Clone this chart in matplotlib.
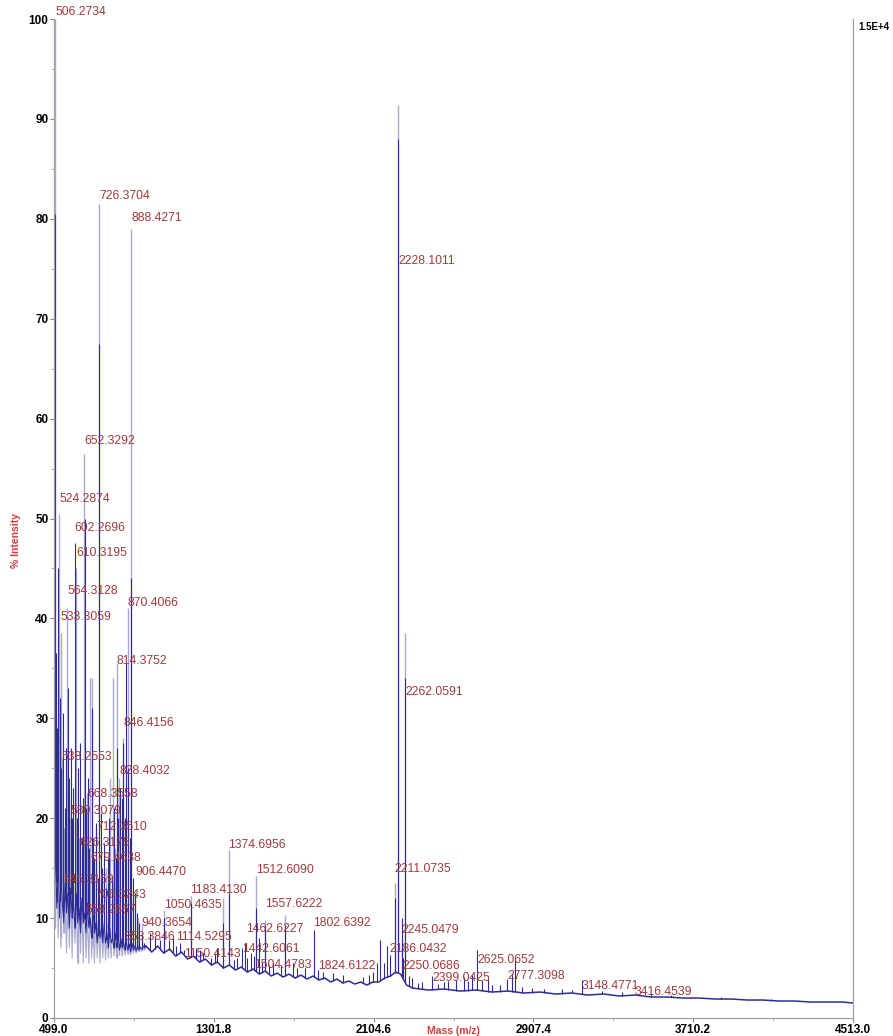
import numpy as np
import matplotlib
matplotlib.use('Agg')
import matplotlib.pyplot as plt

plt.rcParams['font.family'] = ['Liberation Sans', 'DejaVu Sans']

# noisy low-mass region, both overlaid traces (m/z, % intensity)
left_mz = [499, 506, 513, 520, 527, 534, 541, 548, 555, 562,
           569, 576, 583, 590, 597, 604, 611, 618, 625, 632,
           639, 646, 653, 660, 667, 674, 681, 688, 695, 702,
           709, 716, 723, 730, 737, 744, 751, 758, 765, 772,
           779, 786, 793, 800, 807, 814, 821, 828, 835, 842,
           849, 856, 863, 870, 877, 884, 891, 898, 905, 912,
           919, 926, 933, 940, 947, 954]
left_dark = [12.5, 17, 11, 15.5, 10, 14, 11.5, 9.5, 13.5, 10.5,
             12.5, 9, 13, 10, 11.5, 9, 12.5, 9.5, 11, 8.5,
             12, 9.5, 10.5, 8.5, 11.5, 9, 10, 8, 11, 8.5,
             9.5, 7.5, 10, 8, 9, 7.5, 9.5, 7.5, 8.5, 7,
             9, 7.5, 8, 7, 8.5, 7, 8, 6.8, 8, 7,
             7.5, 6.8, 7.6, 6.8, 7.4, 6.6, 7.5, 6.8, 7.2, 6.7,
             7.3, 6.8, 7.1, 6.9, 7.2, 7.0]
left_light = [16, 9, 18, 8, 14, 7, 17, 8.5, 12, 6.5,
              15, 7, 13.5, 6, 14, 7.5, 12, 5.5, 13, 6.5,
              11.5, 5.5, 12.5, 6, 10.5, 5.5, 12, 6, 10, 5.5,
              11, 6, 9.5, 5.5, 10, 6, 9, 5.8, 9.5, 6,
              8.5, 6, 9, 6.2, 8, 6, 8.5, 6.3, 7.8, 6.2,
              7.5, 6.3, 7.4, 6.4, 7.2, 6.3, 7.1, 6.5, 7.0, 6.5,
              7.0, 6.6, 6.9, 6.7, 7.0, 6.8]

# baseline for the rest of the range
far_mz = [961, 990, 1020, 1050, 1080, 1110, 1140, 1170, 1200, 1230,
          1260, 1290, 1320, 1350, 1380, 1410, 1440, 1470, 1500, 1530,
          1560, 1590, 1620, 1650, 1680, 1710, 1740, 1770, 1800, 1830,
          1860, 1890, 1920, 1950, 1980, 2010, 2040, 2070, 2100, 2130,
          2160, 2190, 2215, 2240, 2270, 2300, 2380, 2460, 2540, 2620,
          2700, 2780, 2860, 2940, 3020, 3100, 3180, 3260, 3340, 3420,
          3500, 3580, 3660, 3740, 3820, 3900, 3980, 4060, 4140, 4220,
          4300, 4380, 4460, 4513]
far_int = [7.2, 6.6, 7.2, 6.5, 6.9, 6.2, 6.6, 5.9, 6.2, 5.6,
           5.9, 5.3, 5.6, 5.0, 5.3, 4.8, 5.1, 4.6, 4.9, 4.4,
           4.7, 4.2, 4.5, 4.1, 4.4, 4.0, 4.3, 3.9, 4.2, 3.8,
           4.0, 3.6, 3.9, 3.5, 3.7, 3.4, 3.6, 3.3, 3.6, 3.6,
           4.0, 4.2, 4.6, 4.4, 3.3, 3.0, 2.8, 2.9, 2.7, 2.8,
           2.6, 2.7, 2.5, 2.6, 2.4, 2.5, 2.3, 2.4, 2.2, 2.3,
           2.1, 2.1, 2.0, 2.0, 1.9, 1.9, 1.8, 1.8, 1.7, 1.7,
           1.6, 1.6, 1.6, 1.5]

dark_peak_mz = [506, 510, 514, 519, 530, 536, 544, 552, 560, 568,
                575, 582, 590, 596, 604, 616, 622, 630, 638, 645,
                655, 662, 670, 676, 688, 695, 702, 712, 718, 726,
                735, 742, 752, 760, 768, 776, 790, 800, 810, 815,
                822, 830, 840, 848, 856, 862, 872, 880, 888, 895,
                906, 915, 925, 940, 950, 980, 1005, 1030, 1075, 1095,
                1050, 1114, 1130, 1150, 1187, 1210, 1230, 1250, 1290, 1310,
                1320, 1348, 1377, 1405, 1420, 1442, 1460, 1470, 1490, 1505,
                1514, 1530, 1545, 1558, 1580, 1600, 1640, 1660, 1700, 1720,
                1760, 1806, 1826, 1850, 1900, 1950, 2050, 2080, 2101, 2120,
                2137, 2155, 2172, 2186, 2212, 2228, 2245, 2250, 2262, 2280,
                2300, 2330, 2350, 2399, 2430, 2460, 2480, 2520, 2559, 2580,
                2600, 2625, 2650, 2680, 2700, 2740, 2777, 2800, 2815, 2850,
                2900, 2960, 3050, 3100, 3150, 3250, 3350, 3416, 3500, 3600,
                3700, 3850, 4100]
dark_peak_int = [80.5, 36.5, 29, 45, 32, 25, 30.5, 21, 27, 33,
                 24, 27, 20, 23, 47.5, 20, 25, 27.5, 18, 22,
                 50, 21, 24, 17, 31, 18, 16, 19.5, 14, 67.5,
                 20.5, 15, 17.5, 13, 16, 20, 14, 21, 16, 27,
                 20, 23, 22, 27.5, 20, 35.5, 25, 18, 44, 14,
                 12.5, 10.5, 9.5, 8.5, 7.5, 8.5, 8.2, 7.8, 7.8, 8,
                 10, 7.2, 7.5, 6.8, 11.5, 7, 6.8, 6.5, 6, 6.4,
                 7, 9.5, 12.5, 5.8, 6, 7, 7.5, 6, 6.5, 6.2,
                 11, 8, 5.6, 9.3, 5.3, 5.5, 5.3, 9.3, 5.5, 5,
                 5, 8.8, 4.8, 4.6, 4.5, 4.3, 4.1, 4.3, 4.6, 5.5,
                 7.8, 5.5, 7.2, 6.3, 12, 88, 10, 6, 34, 4.2,
                 4, 3.5, 3.6, 4.2, 3.4, 3.6, 3.7, 3.8, 4.1, 3.7,
                 4.3, 6.8, 3.8, 3.9, 3.3, 3.3, 3.9, 4.4, 5.8, 3.1,
                 3.0, 2.9, 2.9, 2.8, 3.8, 2.7, 2.6, 2.3, 2.4, 2.3,
                 2.0, 2.1, 1.9]

light_peak_mz = [506, 510, 524, 533, 540, 548, 564, 572, 580, 588,
                 610, 618, 626, 640, 652, 665, 680, 690, 700, 712,
                 726, 740, 760, 780, 796, 805, 814, 828, 846, 870,
                 888, 906, 920, 940, 1050, 1187, 1348, 1377, 1514, 1558,
                 1660, 2212, 2228, 2245, 2262]
light_peak_int = [100, 24, 50.5, 38.5, 26, 19, 41, 22, 20, 19,
                  45, 18, 18, 16, 56.5, 22.5, 34, 34, 15, 19,
                  81.5, 14, 15, 24, 34, 17, 35.5, 24, 28, 41,
                  79, 12.5, 10, 9.5, 10.8, 12.2, 12, 16.8, 14.2, 9.8,
                  10.3, 13.5, 91.4, 8, 38.5]

# peak annotations: text and the height of the label
label_text = ['506.2734', '726.3704', '888.4271', '2228.1011', '652.3292',
              '524.2874', '602.2696', '610.3195', '564.3128', '533.3059',
              '870.4066', '814.3752', '2262.0591', '846.4156', '538.2553',
              '828.4032', '668.3558', '580.3079', '712.3510', '626.3175',
              '679.4638', '906.4470', '2211.0735', '1374.6956', '1512.6090',
              '545.3159', '1183.4130', '706.3243', '1050.4635', '1557.6222',
              '658.2867', '940.3654', '1462.6227', '1802.6392', '2245.0479',
              '853.3846', '1114.5295', '1442.6061', '2186.0432', '1150.4143',
              '2625.0652', '1504.4783', '1824.6122', '2250.0686', '2777.3098',
              '2399.0425', '3148.4771', '3416.4539']
label_y = [100.7, 82.3, 80.1, 75.8, 57.8,
           52.0, 49.0, 46.5, 42.7, 40.1,
           41.5, 35.7, 32.6, 29.5, 26.1,
           24.7, 22.4, 20.7, 19.1, 17.5,
           16.0, 14.6, 14.9, 17.3, 14.8,
           13.8, 12.8, 12.3, 11.3, 11.4,
           10.8, 9.5, 8.9, 9.5, 8.8,
           8.1, 8.1, 6.9, 6.9, 6.4,
           5.8, 5.3, 5.2, 5.2, 4.2,
           4.0, 3.2, 2.6]

x_ticks = [499.0, 1301.8, 2104.6, 2907.4, 3710.2, 4513.0]

DARK = '#2c2c94'
LIGHT = '#a9a9d2'
LABEL = '#a13a3c'
AXRED = '#d43b3b'


def main():
    fig = plt.figure(figsize=(8.93, 10.36), dpi=100)
    ax = fig.add_axes([54 / 893, 18 / 1036, 799 / 893, 999 / 1036])

    all_mz = np.array(left_mz + far_mz, dtype=float)
    dark_line = np.array(left_dark + far_int, dtype=float)
    light_line = np.array(left_light + far_int, dtype=float)

    # light trace sits underneath
    ax.plot(left_mz + far_mz[:1], left_light + far_int[:1],
            color=LIGHT, lw=0.8, zorder=1)
    lm = np.array(light_peak_mz, dtype=float)
    ax.vlines(lm, np.interp(lm, all_mz, light_line), light_peak_int,
              color=LIGHT, lw=1.0, zorder=1)

    ax.plot(left_mz + far_mz[:1], left_dark + far_int[:1],
            color=DARK, lw=0.7, zorder=2)
    ax.plot(far_mz, far_int, color=DARK, lw=1.1, zorder=2)
    dm = np.array(dark_peak_mz, dtype=float)
    ax.vlines(dm, np.interp(dm, all_mz, dark_line), dark_peak_int,
              color=DARK, lw=0.8, zorder=2)

    for txt, y in zip(label_text, label_y):
        ax.text(float(txt), y, txt, color=LABEL, fontsize=8.8,
                ha='left', va='center', zorder=3)

    ax.set_xlim(499.0, 4513.0)
    ax.set_ylim(0, 100)
    ax.set_xticks(x_ticks)
    ax.set_xticklabels(['%.1f' % v for v in x_ticks])
    ax.set_xticks([(a + b) / 2 for a, b in zip(x_ticks[:-1], x_ticks[1:])],
                  minor=True)
    ax.set_yticks(range(0, 101, 10))
    ax.set_yticks(range(5, 100, 10), minor=True)
    ax.tick_params(axis='both', which='major', length=3, width=0.8,
                   color='#888888', labelsize=8.5, pad=1)
    ax.tick_params(axis='both', which='minor', length=2, width=0.6,
                   color='#aaaaaa')
    for lab in ax.get_xticklabels() + ax.get_yticklabels():
        lab.set_fontweight('bold')

    ax.spines['top'].set_visible(False)
    for s in ['left', 'bottom', 'right']:
        ax.spines[s].set_color('#a0a0a0')
        ax.spines[s].set_linewidth(0.9)

    fig.text(16 / 893, 1 - 540 / 1036, '% Intensity', rotation=90,
             color=AXRED, fontsize=7.5, fontweight='bold',
             ha='center', va='center')
    fig.text(453 / 893, 1 - 1031 / 1036, 'Mass (m/z)', color=AXRED,
             fontsize=7.5, fontweight='bold', ha='center', va='center')
    fig.text(858 / 893, 1 - 27 / 1036, '1.5E+4', color='black',
             fontsize=7, fontweight='bold', ha='left', va='center')

    fig.savefig('out.png', dpi=100)


if __name__ == "__main__":
    main()
